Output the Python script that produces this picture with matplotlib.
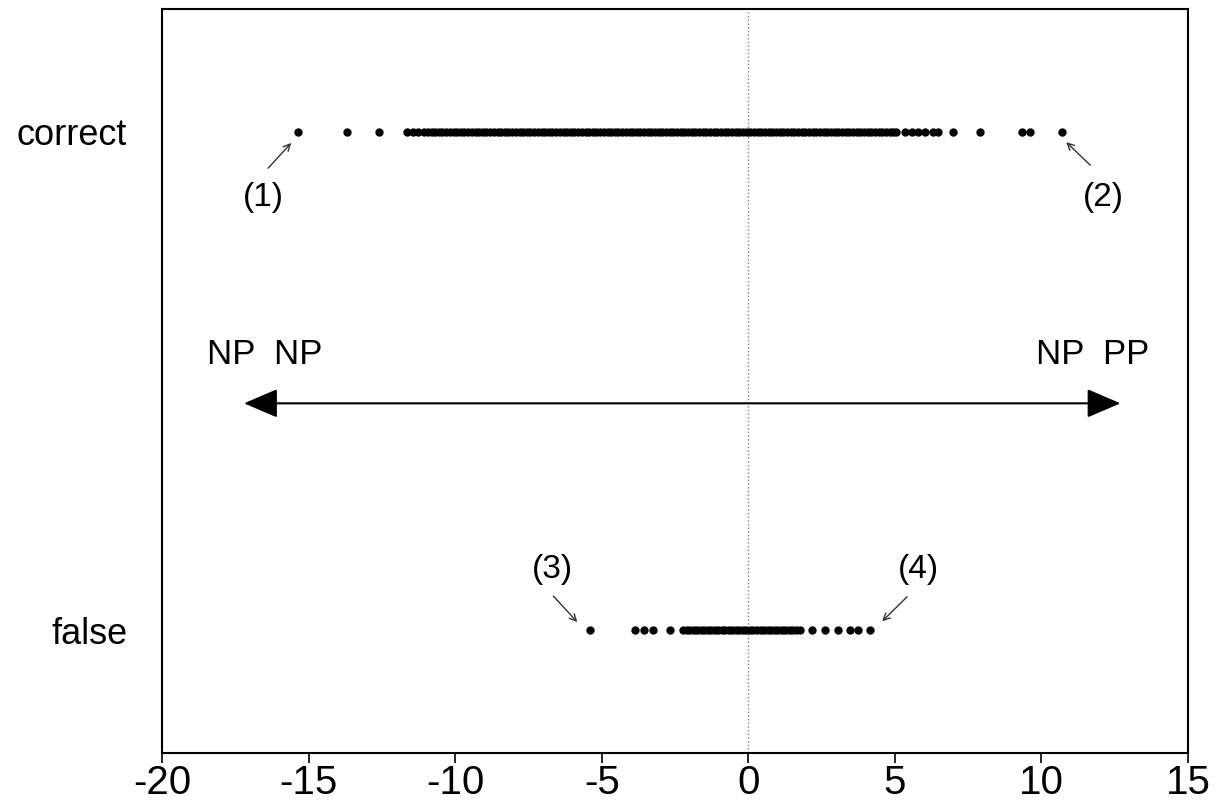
import matplotlib
matplotlib.use('Agg')
import matplotlib.pyplot as plt

plt.rcParams['font.family'] = ['Liberation Sans', 'DejaVu Sans']

# scores of the correct and false classified items
correct_scores = [-15.35, -13.68, -12.59, -11.63, -11.45, -11.27,
                  -11.05, -10.93, -10.80, -10.68, -10.55, -10.43, -10.30, -10.18, -10.05, -9.93,
                  -9.80, -9.68, -9.55, -9.43, -9.30, -9.18, -9.05, -8.93, -8.80, -8.68, -8.55,
                  -8.43, -8.30, -8.18, -8.05, -7.93, -7.80, -7.68, -7.55, -7.43, -7.30, -7.18,
                  -7.05, -6.93, -6.80, -6.68, -6.55, -6.43, -6.30, -6.18, -6.05, -5.93, -5.80,
                  -5.68, -5.55, -5.43, -5.30, -5.18, -5.05, -4.93, -4.80, -4.68, -4.55, -4.43,
                  -4.30, -4.18, -4.05, -3.93, -3.80, -3.68, -3.55, -3.43, -3.30, -3.18, -3.05,
                  -2.93, -2.80, -2.68, -2.55, -2.43, -2.30, -2.18, -2.05, -1.93, -1.80, -1.68,
                  -1.55, -1.43, -1.30, -1.18, -1.05, -0.93, -0.80, -0.68, -0.55, -0.43, -0.30,
                  -0.18, -0.05, 0.07, 0.20, 0.32, 0.45, 0.57, 0.70, 0.82, 0.95, 1.07, 1.20, 1.32,
                  1.45, 1.57, 1.70, 1.82, 1.95, 2.07, 2.20, 2.32, 2.45, 2.57, 2.70, 2.82, 2.95,
                  3.07, 3.20, 3.32, 3.45, 3.57, 3.70, 3.82, 3.95, 4.07, 4.20, 4.32, 4.45, 4.57,
                  4.70, 4.82, 4.95, 5.05, 5.36, 5.60, 5.80, 6.04, 6.31, 6.48, 6.99, 7.92, 9.35,
                  9.62, 10.71]
false_scores = [-5.39, -3.85, -3.55, -3.25, -2.66,
                -2.22, -2.10, -1.98, -1.86, -1.74, -1.62, -1.50, -1.38, -1.26, -1.14, -1.02,
                -0.90, -0.78, -0.66, -0.54, -0.42, -0.30, -0.18, -0.06, 0.06, 0.18, 0.30, 0.42,
                0.54, 0.66, 0.78, 0.90, 1.02, 1.14, 1.26, 1.38, 1.50, 1.62, 1.77,
                2.18, 2.63, 3.07, 3.48, 3.75, 4.16]

row_labels = ['correct', 'false']
row_pos = [0.835, 0.165]
xticks = [-20, -15, -10, -5, 0, 5, 10, 15]

fig = plt.figure(figsize=(12.16, 8.09), dpi=100)
ax = fig.add_axes([0.1332, 0.0692, 0.8437, 0.9197])

ax.axvline(0, color='gray', ls=':', lw=1, zorder=0)

ax.plot(correct_scores, [row_pos[0]] * len(correct_scores), 'o', color='black', ms=6, mec='none')
ax.plot(false_scores, [row_pos[1]] * len(false_scores), 'o', color='black', ms=6, mec='none')

# double arrow between the two poles
ax.annotate('', xy=(-17.2, 0.47), xytext=(12.7, 0.47),
            arrowprops=dict(arrowstyle='<|-|>,head_length=1.05,head_width=0.45',
                            lw=1.5, color='black', mutation_scale=20,
                            shrinkA=0, shrinkB=0))
ax.text(-16.48, 0.535, 'NP  NP', fontsize=25, ha='center', va='center')
ax.text(11.74, 0.535, 'NP  PP', fontsize=25, ha='center', va='center')

# numbered extreme points
notes = [('(1)', (-16.55, 0.746), (-16.38, 0.786), (-15.59, 0.820)),
         ('(2)', (12.11, 0.746), (11.67, 0.790), (10.85, 0.821)),
         ('(3)', (-6.69, 0.246), (-6.65, 0.211), (-5.83, 0.176)),
         ('(4)', (5.80, 0.246), (5.42, 0.210), (4.57, 0.177))]
for txt, tpos, tail, head in notes:
    ax.text(tpos[0], tpos[1], txt, fontsize=24, ha='center', va='center')
    ax.annotate('', xy=head, xytext=tail,
                arrowprops=dict(arrowstyle='->', lw=1, color='#333333',
                                shrinkA=0, shrinkB=0, mutation_scale=12))

ax.set_xlim(-20, 15)
ax.set_ylim(0, 1)
ax.set_xticks(xticks)
ax.set_xticklabels([str(t) for t in xticks])
ax.set_yticks(row_pos)
ax.set_yticklabels(row_labels)
ax.tick_params(axis='x', direction='out', length=7, width=1.2, labelsize=29, pad=1)
ax.tick_params(axis='y', length=0, labelsize=26, pad=25)
for s in ax.spines.values():
    s.set_linewidth(1.5)

plt.savefig('out.png', dpi=100)
